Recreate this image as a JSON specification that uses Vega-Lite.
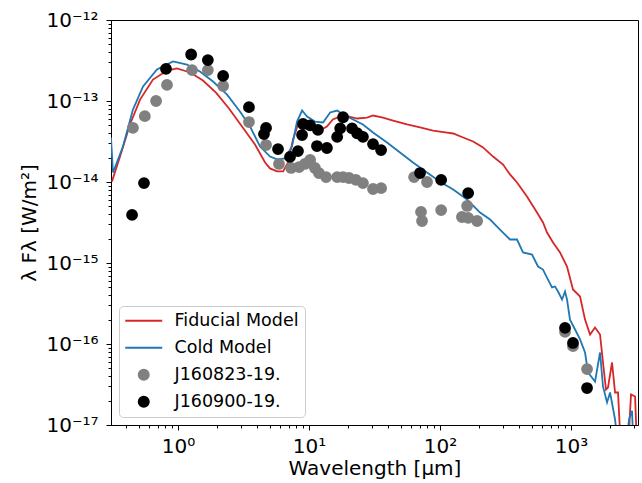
{
  "$schema": "https://vega.github.io/schema/vega-lite/v6.json",
  "width": 527,
  "height": 405,
  "autosize": "none",
  "padding": {"left": 111, "top": 20, "right": 4, "bottom": 58},
  "config": {
    "font": "DejaVu Sans",
    "view": {"stroke": "black", "strokeWidth": 1},
    "axis": {"domainColor": "black", "tickColor": "black", "labelColor": "black", "titleColor": "black", "grid": false, "labelFont": "DejaVu Sans", "titleFont": "DejaVu Sans", "labelFontSize": 20, "titleFontSize": 20, "titleFontWeight": "normal"}
  },
  "datasets": {
    "fid": [
      {"wl": 0.313, "flux": 1.01e-14}, {"wl": 0.361, "flux": 2.06e-14}, {"wl": 0.430, "flux": 5.13e-14}, {"wl": 0.513, "flux": 1.04e-13},
      {"wl": 0.644, "flux": 1.84e-13}, {"wl": 0.824, "flux": 2.38e-13}, {"wl": 0.982, "flux": 2.52e-13}, {"wl": 1.24, "flux": 2.25e-13},
      {"wl": 1.55, "flux": 1.79e-13}, {"wl": 1.95, "flux": 1.27e-13}, {"wl": 2.45, "flux": 8.07e-14}, {"wl": 3.08, "flux": 4.84e-14},
      {"wl": 3.87, "flux": 2.90e-14}, {"wl": 4.62, "flux": 1.74e-14}, {"wl": 5.04, "flux": 1.47e-14}, {"wl": 5.70, "flux": 1.35e-14},
      {"wl": 6.34, "flux": 1.35e-14}, {"wl": 6.92, "flux": 1.74e-14}, {"wl": 7.55, "flux": 3.35e-14}, {"wl": 8.24, "flux": 5.13e-14},
      {"wl": 9.0, "flux": 5.43e-14}, {"wl": 10.2, "flux": 4.71e-14}, {"wl": 11.7, "flux": 4.2e-14}, {"wl": 13.7, "flux": 4.84e-14},
      {"wl": 15.2, "flux": 5.91e-14}, {"wl": 17.3, "flux": 6.44e-14}, {"wl": 19.9, "flux": 6.44e-14}, {"wl": 23.3, "flux": 6.08e-14},
      {"wl": 27.7, "flux": 6.25e-14}, {"wl": 30.8, "flux": 6.62e-14}, {"wl": 36.7, "flux": 6.25e-14}, {"wl": 43.8, "flux": 5.74e-14},
      {"wl": 56.0, "flux": 5.13e-14}, {"wl": 70.4, "flux": 4.71e-14}, {"wl": 88.4, "flux": 4.32e-14}, {"wl": 113, "flux": 4.08e-14},
      {"wl": 126, "flux": 3.97e-14}, {"wl": 150, "flux": 3.54e-14}, {"wl": 179, "flux": 3.16e-14}, {"wl": 213, "flux": 2.67e-14},
      {"wl": 254, "flux": 2.06e-14}, {"wl": 303, "flux": 1.64e-14}, {"wl": 342, "flux": 1.24e-14}, {"wl": 387, "flux": 9.86e-15},
      {"wl": 461, "flux": 6.62e-15}, {"wl": 550, "flux": 4.2e-15}, {"wl": 611, "flux": 3.16e-15}, {"wl": 656, "flux": 2.38e-15},
      {"wl": 729, "flux": 1.79e-15}, {"wl": 824, "flux": 1.35e-15}, {"wl": 932, "flux": 9.05e-16}, {"wl": 1035, "flux": 4.71e-16},
      {"wl": 1172, "flux": 3.86e-16}, {"wl": 1279, "flux": 2.0e-16}, {"wl": 1397, "flux": 1.31e-16}, {"wl": 1525, "flux": 1.6e-16},
      {"wl": 1665, "flux": 1.31e-16}, {"wl": 1754, "flux": 5.91e-17}, {"wl": 1849, "flux": 2.74e-17}, {"wl": 1915, "flux": 2.9e-17},
      {"wl": 2056, "flux": 5.91e-17}, {"wl": 2168, "flux": 2.52e-17}, {"wl": 2285, "flux": 2.52e-17}, {"wl": 2400, "flux": 5e-18},
      {"wl": 2723, "flux": 5e-18}, {"wl": 2870, "flux": 2.38e-17}, {"wl": 3083, "flux": 2.25e-17}, {"wl": 3191, "flux": 5e-18}
    ],
    "cold": [
      {"wl": 0.308, "flux": 3.54e-14}, {"wl": 0.319, "flux": 1.31e-14}, {"wl": 0.380, "flux": 2.74e-14}, {"wl": 0.453, "flux": 7.85e-14},
      {"wl": 0.541, "flux": 1.51e-13}, {"wl": 0.691, "flux": 2.45e-13}, {"wl": 0.916, "flux": 3.08e-13}, {"wl": 1.17, "flux": 2.82e-13},
      {"wl": 1.47, "flux": 2.31e-13}, {"wl": 1.85, "flux": 1.74e-13}, {"wl": 2.37, "flux": 1.20e-13}, {"wl": 2.97, "flux": 7.41e-14},
      {"wl": 3.55, "flux": 4.84e-14}, {"wl": 4.23, "flux": 2.74e-14}, {"wl": 5.04, "flux": 2.06e-14}, {"wl": 5.70, "flux": 1.90e-14},
      {"wl": 6.56, "flux": 1.95e-14}, {"wl": 7.41, "flux": 2.74e-14}, {"wl": 8.10, "flux": 5.58e-14}, {"wl": 8.85, "flux": 7.63e-14},
      {"wl": 9.66, "flux": 6.44e-14}, {"wl": 11.1, "flux": 5.58e-14}, {"wl": 12.8, "flux": 5.43e-14}, {"wl": 14.5, "flux": 7.21e-14},
      {"wl": 16.4, "flux": 7.63e-14}, {"wl": 18.2, "flux": 6.81e-14}, {"wl": 21.7, "flux": 5.91e-14}, {"wl": 25.8, "flux": 5.13e-14},
      {"wl": 30.8, "flux": 4.08e-14}, {"wl": 39.4, "flux": 3.08e-14}, {"wl": 49.5, "flux": 2.31e-14}, {"wl": 62.2, "flux": 1.74e-14},
      {"wl": 79.6, "flux": 1.31e-14}, {"wl": 100, "flux": 1.01e-14}, {"wl": 126, "flux": 8.07e-15}, {"wl": 161, "flux": 6.08e-15},
      {"wl": 202, "flux": 4.20e-15}, {"wl": 241, "flux": 3.44e-15}, {"wl": 287, "flux": 2.59e-15}, {"wl": 342, "flux": 1.95e-15},
      {"wl": 387, "flux": 1.95e-15}, {"wl": 430, "flux": 1.35e-15}, {"wl": 504, "flux": 1.27e-15}, {"wl": 560, "flux": 9.05e-16},
      {"wl": 611, "flux": 8.31e-16}, {"wl": 667, "flux": 6.25e-16}, {"wl": 716, "flux": 4.99e-16}, {"wl": 755, "flux": 5.13e-16},
      {"wl": 796, "flux": 4.45e-16}, {"wl": 854, "flux": 3.54e-16}, {"wl": 900, "flux": 4.45e-16}, {"wl": 932, "flux": 3.54e-16},
      {"wl": 982, "flux": 2.0e-16}, {"wl": 1073, "flux": 1.51e-16}, {"wl": 1172, "flux": 1.14e-16}, {"wl": 1279, "flux": 7.85e-17},
      {"wl": 1349, "flux": 4.45e-17}, {"wl": 1525, "flux": 3.44e-17}, {"wl": 1665, "flux": 7.85e-17}, {"wl": 1754, "flux": 2.99e-17},
      {"wl": 1883, "flux": 1.90e-17}, {"wl": 1986, "flux": 2.52e-17}, {"wl": 2168, "flux": 1.17e-17}, {"wl": 2300, "flux": 5e-18},
      {"wl": 2600, "flux": 5e-18}, {"wl": 2780, "flux": 1.2e-17}, {"wl": 2922, "flux": 1.5e-17}, {"wl": 3000, "flux": 5e-18}
    ],
    "obs": [
      {"series": "J160823-19.", "wl": 0.453, "flux": 4.65e-14}, {"series": "J160823-19.", "wl": 0.558, "flux": 6.5e-14},
      {"series": "J160823-19.", "wl": 0.68, "flux": 1.0e-13}, {"series": "J160823-19.", "wl": 0.824, "flux": 1.58e-13},
      {"series": "J160823-19.", "wl": 1.28, "flux": 2.41e-13}, {"series": "J160823-19.", "wl": 1.69, "flux": 2.41e-13},
      {"series": "J160823-19.", "wl": 2.21, "flux": 1.53e-13}, {"series": "J160823-19.", "wl": 3.48, "flux": 5.5e-14},
      {"series": "J160823-19.", "wl": 4.7, "flux": 2.86e-14}, {"series": "J160823-19.", "wl": 5.9, "flux": 1.67e-14},
      {"series": "J160823-19.", "wl": 7.3, "flux": 1.49e-14}, {"series": "J160823-19.", "wl": 8.4, "flux": 1.53e-14},
      {"series": "J160823-19.", "wl": 9.3, "flux": 1.67e-14}, {"series": "J160823-19.", "wl": 10.2, "flux": 1.87e-14},
      {"series": "J160823-19.", "wl": 11.1, "flux": 1.49e-14}, {"series": "J160823-19.", "wl": 11.9, "flux": 1.29e-14},
      {"series": "J160823-19.", "wl": 13.5, "flux": 1.15e-14}, {"series": "J160823-19.", "wl": 16.4, "flux": 1.15e-14},
      {"series": "J160823-19.", "wl": 18.2, "flux": 1.15e-14}, {"series": "J160823-19.", "wl": 20.2, "flux": 1.12e-14},
      {"series": "J160823-19.", "wl": 22.8, "flux": 1.06e-14}, {"series": "J160823-19.", "wl": 25.8, "flux": 9.7e-15},
      {"series": "J160823-19.", "wl": 30.8, "flux": 8.2e-15}, {"series": "J160823-19.", "wl": 35.5, "flux": 8.4e-15},
      {"series": "J160823-19.", "wl": 63.4, "flux": 1.15e-14}, {"series": "J160823-19.", "wl": 79.6, "flux": 1.0e-14},
      {"series": "J160823-19.", "wl": 71.6, "flux": 4.27e-15}, {"series": "J160823-19.", "wl": 72.9, "flux": 3.3e-15},
      {"series": "J160823-19.", "wl": 102, "flux": 4.5e-15}, {"series": "J160823-19.", "wl": 161, "flux": 5.06e-15},
      {"series": "J160823-19.", "wl": 147, "flux": 3.7e-15}, {"series": "J160823-19.", "wl": 164, "flux": 3.6e-15},
      {"series": "J160823-19.", "wl": 192, "flux": 3.3e-15}, {"series": "J160823-19.", "wl": 900, "flux": 1.41e-16},
      {"series": "J160823-19.", "wl": 1035, "flux": 9.4e-17}, {"series": "J160823-19.", "wl": 1325, "flux": 4.9e-17},
      {"series": "J160900-19.", "wl": 0.446, "flux": 3.92e-15}, {"series": "J160900-19.", "wl": 0.55, "flux": 9.7e-15},
      {"series": "J160900-19.", "wl": 0.81, "flux": 2.49e-13}, {"series": "J160900-19.", "wl": 1.26, "flux": 3.75e-13},
      {"series": "J160900-19.", "wl": 1.69, "flux": 3.2e-13}, {"series": "J160900-19.", "wl": 2.21, "flux": 2.04e-13},
      {"series": "J160900-19.", "wl": 3.48, "flux": 8.4e-14}, {"series": "J160900-19.", "wl": 4.7, "flux": 4.65e-14},
      {"series": "J160900-19.", "wl": 4.53, "flux": 3.9e-14}, {"series": "J160900-19.", "wl": 5.8, "flux": 2.55e-14},
      {"series": "J160900-19.", "wl": 7.16, "flux": 2.04e-14}, {"series": "J160900-19.", "wl": 8.24, "flux": 2.41e-14},
      {"series": "J160900-19.", "wl": 9.0, "flux": 5.2e-14}, {"series": "J160900-19.", "wl": 8.85, "flux": 3.8e-14},
      {"series": "J160900-19.", "wl": 10.2, "flux": 5.0e-14}, {"series": "J160900-19.", "wl": 11.7, "flux": 4.4e-14},
      {"series": "J160900-19.", "wl": 11.5, "flux": 2.78e-14}, {"series": "J160900-19.", "wl": 13.7, "flux": 2.63e-14},
      {"series": "J160900-19.", "wl": 16.4, "flux": 3.6e-14}, {"series": "J160900-19.", "wl": 18.2, "flux": 6.3e-14},
      {"series": "J160900-19.", "wl": 17.3, "flux": 4.6e-14}, {"series": "J160900-19.", "wl": 21.3, "flux": 4.6e-14},
      {"series": "J160900-19.", "wl": 23.3, "flux": 4.0e-14}, {"series": "J160900-19.", "wl": 25.8, "flux": 3.6e-14},
      {"series": "J160900-19.", "wl": 30.8, "flux": 2.94e-14}, {"series": "J160900-19.", "wl": 35.5, "flux": 2.48e-14},
      {"series": "J160900-19.", "wl": 70.4, "flux": 1.29e-14}, {"series": "J160900-19.", "wl": 102, "flux": 1.06e-14},
      {"series": "J160900-19.", "wl": 164, "flux": 7.3e-15}, {"series": "J160900-19.", "wl": 900, "flux": 1.58e-16},
      {"series": "J160900-19.", "wl": 1035, "flux": 1.03e-16}, {"series": "J160900-19.", "wl": 1325, "flux": 2.86e-17}
    ]
  },
  "resolve": {"axis": {"x": "independent", "y": "independent"}},
  "layer": [
    {
      "data": {"name": "fid"},
      "mark": {"type": "line", "color": "#d62728", "strokeWidth": 1.8, "clip": true},
      "encoding": {
        "x": {"field": "wl", "type": "quantitative", "scale": {"type": "log", "domain": [0.308, 3245], "nice": false},
          "axis": {"orient": "bottom", "values": [1, 10, 100, 1000], "labelExpr": "datum.value < 5 ? '10⁰' : datum.value < 50 ? '10¹' : datum.value < 500 ? '10²' : '10³'", "tickSize": 5, "labelPadding": 6, "title": "Wavelength [μm]", "titlePadding": 2, "labelFlush": false}},
        "y": {"field": "flux", "type": "quantitative", "scale": {"type": "log", "domain": [1e-17, 1e-12], "nice": false},
          "axis": {"orient": "left", "values": [1e-17, 1e-16, 1e-15, 1e-14, 1e-13, 1e-12], "labelExpr": "datum.value > 5e-13 ? '10⁻¹²' : datum.value > 5e-14 ? '10⁻¹³' : datum.value > 5e-15 ? '10⁻¹⁴' : datum.value > 5e-16 ? '10⁻¹⁵' : datum.value > 5e-17 ? '10⁻¹⁶' : '10⁻¹⁷'", "tickSize": 5, "labelPadding": 8, "title": "λ Fλ [W/m²]", "titlePadding": 6, "labelFlush": false}},
        "order": {"field": "wl", "type": "quantitative"}
      }
    },
    {
      "data": {"name": "cold"},
      "mark": {"type": "line", "color": "#1f77b4", "strokeWidth": 1.8, "clip": true},
      "encoding": {
        "x": {"field": "wl", "type": "quantitative",
          "axis": {"orient": "bottom", "values": [0.4, 0.5, 0.6, 0.7, 0.8, 0.9, 2, 3, 4, 5, 6, 7, 8, 9, 20, 30, 40, 50, 60, 70, 80, 90, 200, 300, 400, 500, 600, 700, 800, 900, 2000, 3000], "labels": false, "tickSize": 3, "title": null, "domain": false}},
        "y": {"field": "flux", "type": "quantitative",
          "axis": {"orient": "left", "values": [2e-17, 3e-17, 4e-17, 5e-17, 6e-17, 7e-17, 8e-17, 9e-17, 2e-16, 3e-16, 4e-16, 5e-16, 6e-16, 7e-16, 8e-16, 9e-16, 2e-15, 3e-15, 4e-15, 5e-15, 6e-15, 7e-15, 8e-15, 9e-15, 2e-14, 3e-14, 4e-14, 5e-14, 6e-14, 7e-14, 8e-14, 9e-14, 2e-13, 3e-13, 4e-13, 5e-13, 6e-13, 7e-13, 8e-13, 9e-13], "labels": false, "tickSize": 3, "title": null, "domain": false}},
        "order": {"field": "wl", "type": "quantitative"}
      }
    },
    {
      "data": {"name": "obs"},
      "mark": {"type": "point", "filled": true, "size": 100, "opacity": 1, "strokeWidth": 1.8},
      "encoding": {
        "x": {"field": "wl", "type": "quantitative", "axis": null},
        "y": {"field": "flux", "type": "quantitative", "axis": null},
        "color": {"field": "series", "type": "nominal",
          "scale": {"domain": ["Fiducial Model", "Cold Model", "J160823-19.", "J160900-19."], "range": ["#d62728", "#1f77b4", "#808080", "#000000"]},
          "legend": {"title": null, "orient": "bottom-left", "offset": 8, "padding": 6, "labelFont": "DejaVu Sans", "labelFontSize": 17.5, "labelColor": "black", "symbolSize": 100, "symbolStrokeWidth": 2, "symbolOffset": 10, "labelOffset": 22, "rowPadding": 8, "strokeColor": "#cccccc", "fillColor": "rgba(255,255,255,0.8)", "cornerRadius": 4}},
        "stroke": {"field": "series", "type": "nominal",
          "scale": {"domain": ["Fiducial Model", "Cold Model", "J160823-19.", "J160900-19."], "range": ["#d62728", "#1f77b4", "#808080", "#000000"]},
          "legend": {"title": null, "orient": "bottom-left", "offset": 8, "padding": 6, "labelFont": "DejaVu Sans", "labelFontSize": 17.5, "labelColor": "black", "symbolSize": 100, "symbolStrokeWidth": 2, "symbolOffset": 10, "labelOffset": 22, "rowPadding": 8, "strokeColor": "#cccccc", "fillColor": "rgba(255,255,255,0.8)", "cornerRadius": 4}},
        "shape": {"field": "series", "type": "nominal",
          "scale": {"domain": ["Fiducial Model", "Cold Model", "J160823-19.", "J160900-19."], "range": ["M-3.7,0L3.7,0", "M-3.7,0L3.7,0", "circle", "circle"]},
          "legend": {"title": null, "orient": "bottom-left", "offset": 8, "padding": 6, "labelFont": "DejaVu Sans", "labelFontSize": 17.5, "labelColor": "black", "symbolSize": 100, "symbolStrokeWidth": 2, "symbolOffset": 10, "labelOffset": 22, "rowPadding": 8, "strokeColor": "#cccccc", "fillColor": "rgba(255,255,255,0.8)", "cornerRadius": 4}},
        "order": {"value": 0}
      }
    }
  ]
}
